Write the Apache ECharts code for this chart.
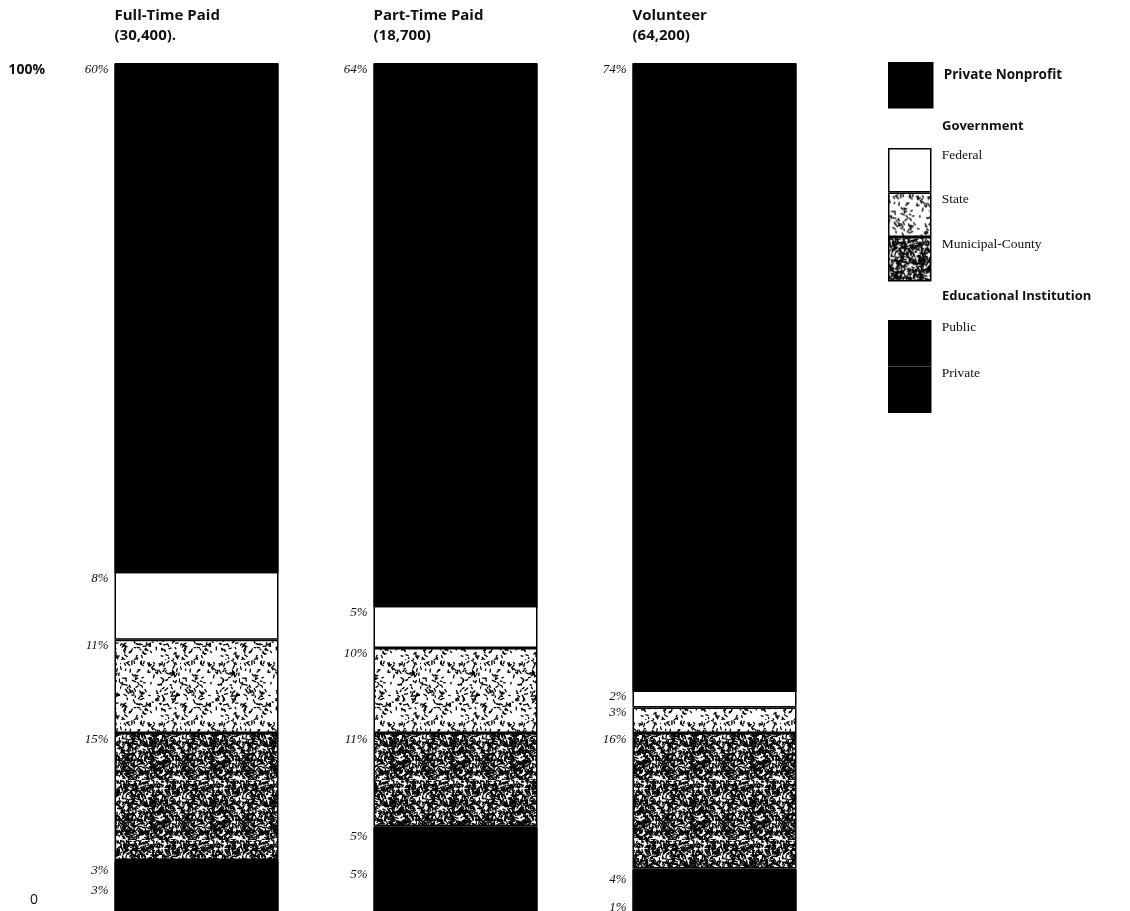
<!DOCTYPE html>
<html>
<head>
<meta charset="UTF-8">
<title>Employment by sector</title>
<style>
  html, body { margin: 0; padding: 0; background: #fff; }
  #box { width: 1130px; height: 911px; }
</style>
</head>
<body>
<div id="box"></div>
<script src="https://cdn.jsdelivr.net/npm/echarts@6/dist/echarts.min.js"></script>
<script>
// bar names and head counts
const groups = ['Full-Time Paid', 'Part-Time Paid', 'Volunteer'];
const groupTotals = ['(30,400).', '(18,700)', '(64,200)'];

// shares in percent, each bar sums to 100
const nonprofit = [60, 64, 74];
const federal = [8, 5, 2];
const state = [11, 10, 3];
const municipal = [15, 11, 16];
const eduPublic = [3, 5, 4];
const eduPrivate = [3, 5, 1];

const yTicks = { 0: '0', 100: '100%' };

// speckle textures for the two shaded government bands
function speckle(density, seed) {
  const c = document.createElement('canvas');
  c.width = 60; c.height = 60;
  const ctx = c.getContext('2d');
  ctx.fillStyle = '#fff';
  ctx.fillRect(0, 0, 60, 60);
  ctx.strokeStyle = '#000';
  ctx.lineWidth = 1.3;
  let s = seed;
  const rnd = () => { s = (s * 16807) % 2147483647; return s / 2147483647; };
  const n = Math.round(density * 60 * 60 / 10);
  for (let i = 0; i < n; i++) {
    const x = rnd() * 60, y = rnd() * 60, a = rnd() * Math.PI, l = 2 + rnd() * 3;
    ctx.beginPath();
    ctx.moveTo(x, y);
    ctx.lineTo(x + Math.cos(a) * l, y + Math.sin(a) * l);
    ctx.stroke();
  }
  return { image: c, repeat: 'repeat' };
}
const lightDots = speckle(0.55, 12345);
const denseDots = speckle(2.6, 98765);

const pctFont = { fontFamily: '"Liberation Serif", serif', fontStyle: 'italic', fontSize: 13, color: '#111' };
const sansBold = '"Open Sans", sans-serif';

function seg(name, data, color, labelDy) {
  const solid = color === '#000';
  const style = { color: color, borderColor: '#000', borderWidth: solid ? 0 : 1.5 };
  if (solid) {
    // hide the hairline seam between two touching black blocks
    style.shadowColor = '#000';
    style.shadowOffsetY = 1.5;
    style.shadowBlur = 0;
  }
  return {
    name: name,
    type: 'bar',
    stack: 'all',
    barWidth: 164,
    data: data,
    itemStyle: style,
    emphasis: { disabled: true },
    label: Object.assign({
      show: true,
      position: [-6, labelDy],
      align: 'right',
      verticalAlign: 'top',
      formatter: p => p.value + '%'
    }, pctFont)
  };
}

// legend text is lifted toward the top of each swatch
const legendLift = {
  'Private Nonprofit': 10, 'Federal': 15, 'State': 15, 'Municipal-County': 15, 'Public': 16, 'Private': 16
};
function legendBlock(names, font, weight, extra) {
  const rich = {};
  names.forEach((n, i) => {
    rich['a' + i] = {
      fontFamily: font, fontWeight: weight, fontSize: 13.5, lineHeight: 13, color: '#111',
      padding: [0, 0, legendLift[n] * 2, 6]
    };
  });
  return Object.assign({
    data: names, orient: 'vertical', left: 888, padding: 0, icon: 'rect', itemGap: 0, selectedMode: false,
    itemStyle: { borderColor: '#000', borderWidth: 1.5, shadowBlur: 0, shadowOffsetY: 0, shadowColor: 'transparent' },
    formatter: n => '{a' + names.indexOf(n) + '|' + n + '}',
    textStyle: { rich: rich }
  }, extra);
}

const chart = echarts.init(document.getElementById('box'));
chart.setOption({
  animation: false,
  backgroundColor: '#fff',
  title: [
    { text: 'Government', left: 942, top: 120, padding: 0,
      textStyle: { fontFamily: sansBold, fontWeight: 700, fontSize: 13, color: '#111' } },
    { text: 'Educational Institution', left: 942, top: 290, padding: 0,
      textStyle: { fontFamily: sansBold, fontWeight: 700, fontSize: 13, color: '#111' } }
  ],
  legend: [
    legendBlock(['Private Nonprofit'], sansBold, 700, { top: 62, itemWidth: 44, itemHeight: 45 }),
    legendBlock(['Federal', 'State', 'Municipal-County'], '"Liberation Serif", serif', 400, { top: 148, itemWidth: 42, itemHeight: 43 }),
    legendBlock(['Public', 'Private'], '"Liberation Serif", serif', 400, { top: 320, itemWidth: 42, itemHeight: 45 })
  ],
  grid: { left: 67, right: 286, top: 63, bottom: 0 },
  xAxis: {
    type: 'category',
    position: 'top',
    data: groups.map((g, i) => g + '\n' + groupTotals[i]),
    axisLine: { show: false },
    axisTick: { show: false },
    axisLabel: {
      margin: 17,
      formatter: v => v.split('\n').map(l => '{t|' + l + '}').join('\n'),
      rich: {
        t: { width: 164, align: 'left', fontFamily: sansBold, fontWeight: 700, fontSize: 15, lineHeight: 20, color: '#111' }
      }
    }
  },
  yAxis: {
    type: 'value',
    min: 0,
    max: 100,
    interval: 100,
    splitLine: { show: false },
    axisLine: { show: false },
    axisTick: { show: false },
    axisLabel: {
      margin: 22,
      formatter: v => (v === 100 ? '{t|' : '{b|') + yTicks[v] + '}',
      rich: {
        t: { fontFamily: sansBold, fontWeight: 700, fontSize: 14, color: '#111', padding: [14, 0, 0, 0] },
        b: { fontFamily: sansBold, fontWeight: 400, fontSize: 14, color: '#111', padding: [0, 7, 22, 0] }
      }
    }
  },
  series: [
    seg('Private', eduPrivate, '#000', -1),
    seg('Public', eduPublic, '#000', 4),
    seg('Municipal-County', municipal, denseDots, 0),
    seg('State', state, lightDots, -1),
    seg('Federal', federal, '#fff', 0),
    seg('Private Nonprofit', nonprofit, '#000', 0)
  ]
});
</script>
</body>
</html>
